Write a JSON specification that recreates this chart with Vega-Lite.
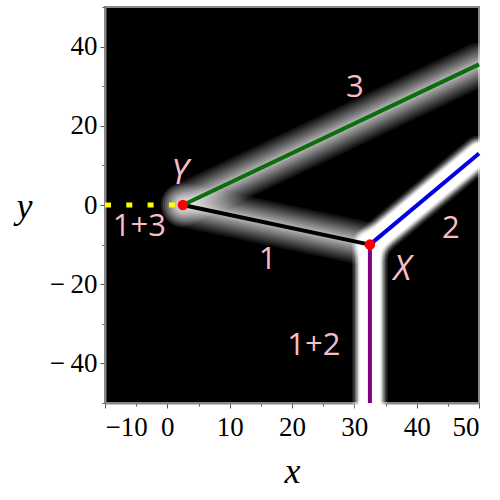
{
  "$schema": "https://vega.github.io/schema/vega-lite/v6.json",
  "autosize": {"type": "none"},
  "width": 374,
  "height": 396,
  "padding": {"left": 105, "top": 7, "right": 21, "bottom": 97},
  "background": "white",
  "config": {
    "view": {"fill": "black", "stroke": "#888888", "strokeWidth": 2},
    "axis": {
      "grid": false,
      "domainColor": "#888888",
      "domainWidth": 2,
      "tickColor": "#555555",
      "labelColor": "black",
      "labelFont": "Liberation Serif",
      "labelFontSize": 27,
      "titleFont": "Liberation Serif",
      "titleFontStyle": "italic",
      "titleFontWeight": "normal",
      "titleFontSize": 36,
      "titleColor": "black"
    },
    "line": {"color": "white", "strokeCap": "round", "clip": true}
  },
  "datasets": {
    "curves": [
      {"curve": "1+3", "i": 0, "x": -10, "y": 0},
      {"curve": "1+3", "i": 1, "x": 2.5, "y": 0},
      {"curve": "1", "i": 0, "x": 2.5, "y": 0},
      {"curve": "1", "i": 1, "x": 32.5, "y": -10},
      {"curve": "3", "i": 0, "x": 2.5, "y": 0},
      {"curve": "3", "i": 1, "x": 50, "y": 35.5},
      {"curve": "2", "i": 0, "x": 32.5, "y": -10},
      {"curve": "2", "i": 1, "x": 50, "y": 13},
      {"curve": "1+2", "i": 0, "x": 32.5, "y": -10},
      {"curve": "1+2", "i": 1, "x": 32.5, "y": -50}
    ],
    "points": [
      {"name": "Y", "x": 2.5, "y": 0},
      {"name": "X", "x": 32.5, "y": -10}
    ],
    "labels": [
      {"text": "3", "x": 30.1, "y": 29.5, "kind": "branch"},
      {"text": "2", "x": 45.5, "y": -6.1, "kind": "branch"},
      {"text": "1", "x": 16.1, "y": -13.9, "kind": "branch"},
      {"text": "1+2", "x": 23.5, "y": -35.6, "kind": "branch"},
      {"text": "1+3", "x": -4.5, "y": -5.6, "kind": "branch"},
      {"text": "Y", "x": 2.0, "y": 7.8, "kind": "point"},
      {"text": "X", "x": 37.7, "y": -16.5, "kind": "point"}
    ]
  },
  "encoding": {
    "x": {
      "field": "x", "type": "quantitative",
      "scale": {"domain": [-10, 50], "nice": false, "zero": false},
      "axis": {
        "title": "x",
        "values": [-10, -5, 0, 5, 10, 15, 20, 25, 30, 35, 40, 45, 50],
        "labelExpr": "datum.value % 10 !== 0 ? '' : (datum.value < 0 ? '\u2212' + abs(datum.value) : '' + datum.value)",
        "tickSize": {"condition": {"test": "datum.value % 10 === 0", "value": 5}, "value": 3},
        "labelPadding": 6,
        "titlePadding": 14
      }
    },
    "y": {
      "field": "y", "type": "quantitative",
      "scale": {"domain": [-50, 50], "nice": false, "zero": false},
      "axis": {
        "title": "y",
        "values": [-50, -40, -30, -20, -10, 0, 10, 20, 30, 40, 50],
        "labelExpr": "datum.value % 20 !== 0 ? '' : (datum.value < 0 ? '\u2212\u2009' + abs(datum.value) : '' + datum.value)",
        "tickSize": {"condition": {"test": "datum.value % 20 === 0", "value": 5}, "value": 3},
        "labelPadding": 3,
        "titleAngle": 0,
        "titleAlign": "center",
        "titleBaseline": "alphabetic",
        "titleX": -81,
        "titleY": 210
      }
    }
  },
  "layer": [
    {"data": {"name": "curves"}, "transform": [{"filter": "datum.curve === '1' || datum.curve === '3'"}],
     "mark": {"type": "line", "strokeWidth": 44, "opacity": 0.07}, "encoding": {"detail": {"field": "curve"}, "order": {"field": "i"}}},
    {"data": {"name": "curves"}, "transform": [{"filter": "datum.curve === '1' || datum.curve === '3'"}],
     "mark": {"type": "line", "strokeWidth": 40, "opacity": 0.07}, "encoding": {"detail": {"field": "curve"}, "order": {"field": "i"}}},
    {"data": {"name": "curves"}, "transform": [{"filter": "datum.curve === '1' || datum.curve === '3'"}],
     "mark": {"type": "line", "strokeWidth": 36, "opacity": 0.08}, "encoding": {"detail": {"field": "curve"}, "order": {"field": "i"}}},
    {"data": {"name": "curves"}, "transform": [{"filter": "datum.curve === '1' || datum.curve === '3'"}],
     "mark": {"type": "line", "strokeWidth": 32, "opacity": 0.08}, "encoding": {"detail": {"field": "curve"}, "order": {"field": "i"}}},
    {"data": {"name": "curves"}, "transform": [{"filter": "datum.curve === '1' || datum.curve === '3'"}],
     "mark": {"type": "line", "strokeWidth": 28, "opacity": 0.09}, "encoding": {"detail": {"field": "curve"}, "order": {"field": "i"}}},
    {"data": {"name": "curves"}, "transform": [{"filter": "datum.curve === '1' || datum.curve === '3'"}],
     "mark": {"type": "line", "strokeWidth": 24, "opacity": 0.1}, "encoding": {"detail": {"field": "curve"}, "order": {"field": "i"}}},
    {"data": {"name": "curves"}, "transform": [{"filter": "datum.curve === '1' || datum.curve === '3'"}],
     "mark": {"type": "line", "strokeWidth": 20, "opacity": 0.11}, "encoding": {"detail": {"field": "curve"}, "order": {"field": "i"}}},
    {"data": {"name": "curves"}, "transform": [{"filter": "datum.curve === '1' || datum.curve === '3'"}],
     "mark": {"type": "line", "strokeWidth": 16, "opacity": 0.12}, "encoding": {"detail": {"field": "curve"}, "order": {"field": "i"}}},
    {"data": {"name": "curves"}, "transform": [{"filter": "datum.curve === '1' || datum.curve === '3'"}],
     "mark": {"type": "line", "strokeWidth": 12, "opacity": 0.14}, "encoding": {"detail": {"field": "curve"}, "order": {"field": "i"}}},
    {"data": {"name": "curves"}, "transform": [{"filter": "datum.curve === '1' || datum.curve === '3'"}],
     "mark": {"type": "line", "strokeWidth": 8, "opacity": 0.18}, "encoding": {"detail": {"field": "curve"}, "order": {"field": "i"}}},
    {"data": {"name": "curves"}, "transform": [{"filter": "datum.curve === '2' || datum.curve === '1+2'"}],
     "mark": {"type": "line", "strokeWidth": 36, "opacity": 0.1}, "encoding": {"detail": {"field": "curve"}, "order": {"field": "i"}}},
    {"data": {"name": "curves"}, "transform": [{"filter": "datum.curve === '2' || datum.curve === '1+2'"}],
     "mark": {"type": "line", "strokeWidth": 33, "opacity": 0.15}, "encoding": {"detail": {"field": "curve"}, "order": {"field": "i"}}},
    {"data": {"name": "curves"}, "transform": [{"filter": "datum.curve === '2' || datum.curve === '1+2'"}],
     "mark": {"type": "line", "strokeWidth": 30, "opacity": 0.25}, "encoding": {"detail": {"field": "curve"}, "order": {"field": "i"}}},
    {"data": {"name": "curves"}, "transform": [{"filter": "datum.curve === '2' || datum.curve === '1+2'"}],
     "mark": {"type": "line", "strokeWidth": 27, "opacity": 0.4}, "encoding": {"detail": {"field": "curve"}, "order": {"field": "i"}}},
    {"data": {"name": "curves"}, "transform": [{"filter": "datum.curve === '2' || datum.curve === '1+2'"}],
     "mark": {"type": "line", "strokeWidth": 24, "opacity": 0.6}, "encoding": {"detail": {"field": "curve"}, "order": {"field": "i"}}},
    {"data": {"name": "curves"}, "transform": [{"filter": "datum.curve === '2' || datum.curve === '1+2'"}],
     "mark": {"type": "line", "strokeWidth": 21, "opacity": 1}, "encoding": {"detail": {"field": "curve"}, "order": {"field": "i"}}},
    {
      "data": {"name": "curves"},
      "transform": [{"filter": "datum.curve === '1+3'"}],
      "mark": {"type": "line", "color": "#ffff00", "strokeWidth": 5, "strokeCap": "butt", "strokeDash": [6, 15.3]},
      "encoding": {"order": {"field": "i"}}
    },
    {
      "data": {"name": "curves"},
      "transform": [{"filter": "datum.curve !== '1+3'"}],
      "mark": {"type": "line", "strokeWidth": 4, "strokeCap": "butt"},
      "encoding": {
        "detail": {"field": "curve"},
        "order": {"field": "i"},
        "color": {
          "field": "curve", "type": "nominal", "legend": null,
          "scale": {"domain": ["1", "2", "3", "1+2"], "range": ["#000000", "#0000e0", "#0a6e0a", "#800080"]}
        }
      }
    },
    {
      "data": {"name": "points"},
      "mark": {"type": "circle", "color": "#ff0000", "opacity": 1, "size": 110}
    },
    {
      "data": {"name": "labels"},
      "transform": [{"filter": "datum.kind === 'branch'"}],
      "mark": {"type": "text", "font": "Open Sans", "fontSize": 31, "color": "#f6bec4", "align": "center", "baseline": "middle"},
      "encoding": {"text": {"field": "text"}}
    },
    {
      "data": {"name": "labels"},
      "transform": [{"filter": "datum.kind === 'point'"}],
      "mark": {"type": "text", "font": "Open Sans", "fontSize": 34, "fontStyle": "italic", "color": "#f6bec4", "align": "center", "baseline": "middle"},
      "encoding": {"text": {"field": "text"}}
    }
  ]
}
